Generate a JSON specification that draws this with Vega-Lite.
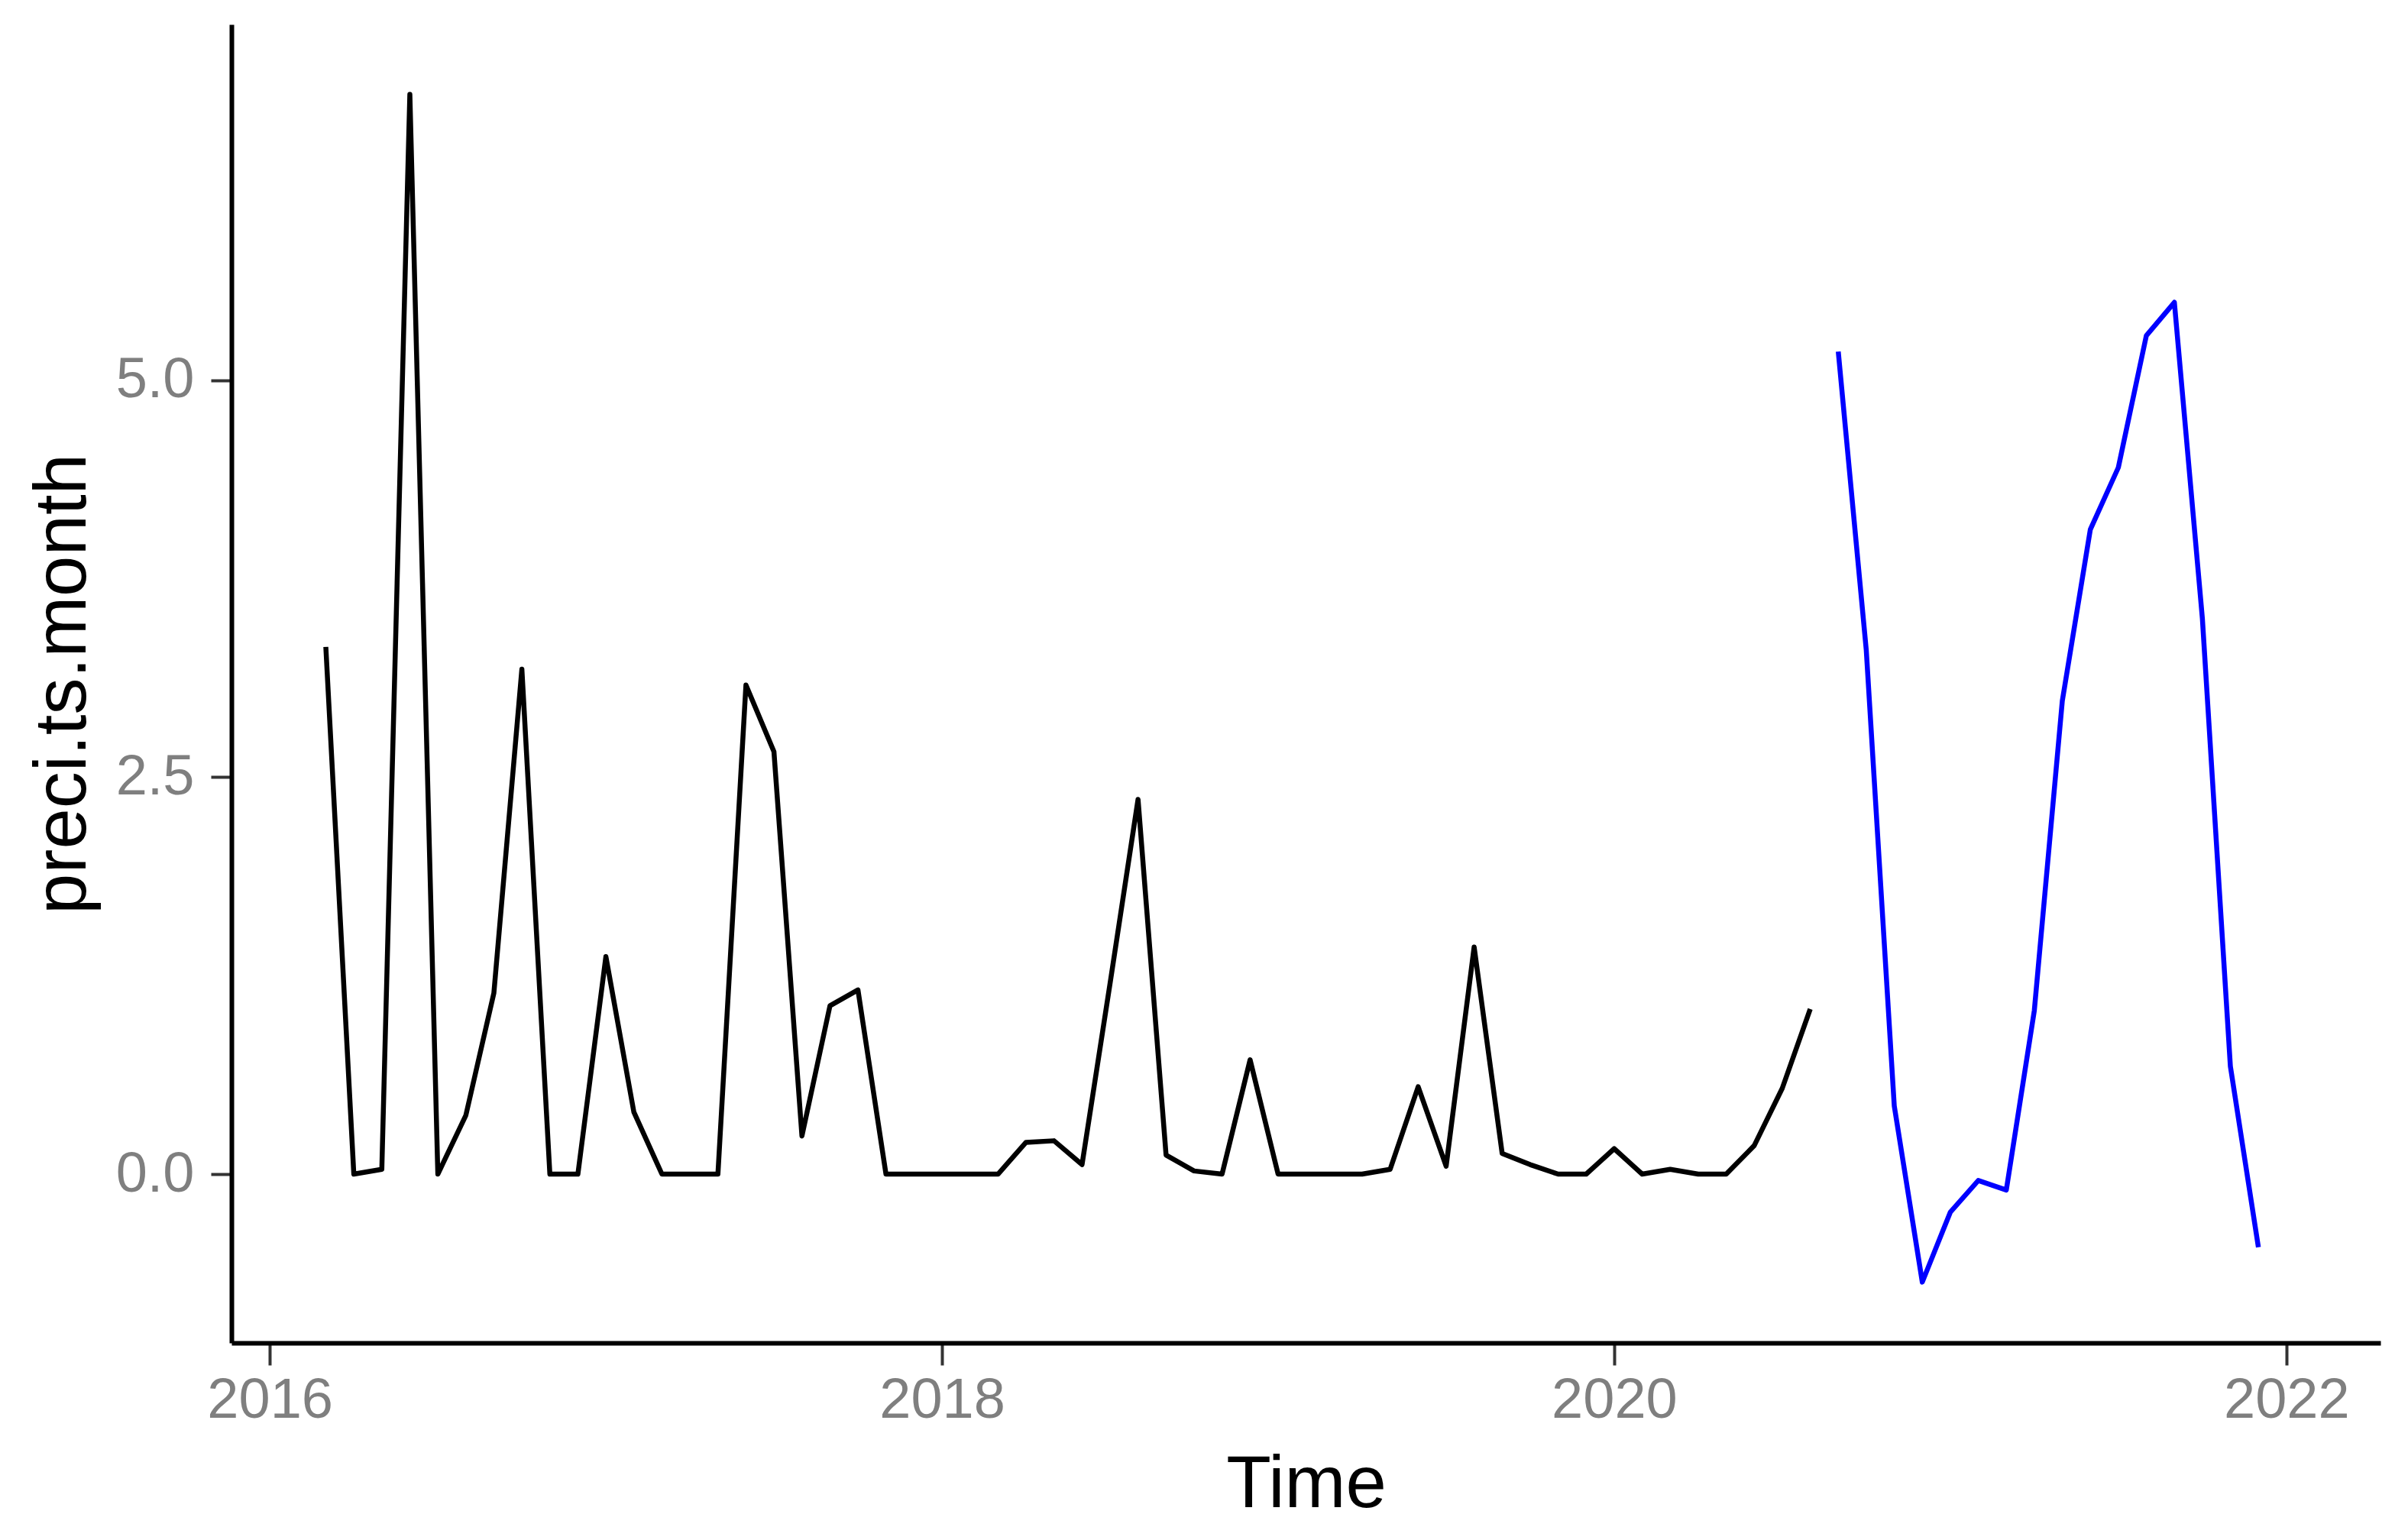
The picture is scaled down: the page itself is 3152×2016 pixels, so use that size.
{
  "$schema": "https://vega.github.io/schema/vega-lite/v6.json",
  "width": 2813,
  "height": 1726,
  "autosize": "none",
  "padding": {"left": 303, "top": 32, "right": 36, "bottom": 258},
  "background": "white",
  "config": {
    "view": {"stroke": null},
    "font": "Liberation Sans",
    "axis": {
      "grid": false,
      "domainColor": "black",
      "domainWidth": 6,
      "tickColor": "#333333",
      "tickWidth": 4,
      "labelFont": "Liberation Sans",
      "labelColor": "#7f7f7f",
      "labelFontSize": 74,
      "titleFont": "Liberation Sans",
      "titleFontSize": 96,
      "titleFontWeight": "normal",
      "titleColor": "black"
    }
  },
  "data": {
    "values": [
      {"t": 2016.1667, "v": 3.32, "s": "obs"},
      {"t": 2016.25, "v": 0.0, "s": "obs"},
      {"t": 2016.3333, "v": 0.03, "s": "obs"},
      {"t": 2016.4167, "v": 6.8, "s": "obs"},
      {"t": 2016.5, "v": 0.0, "s": "obs"},
      {"t": 2016.5833, "v": 0.37, "s": "obs"},
      {"t": 2016.6667, "v": 1.14, "s": "obs"},
      {"t": 2016.75, "v": 3.18, "s": "obs"},
      {"t": 2016.8333, "v": 0.0, "s": "obs"},
      {"t": 2016.9167, "v": 0.0, "s": "obs"},
      {"t": 2017.0, "v": 1.37, "s": "obs"},
      {"t": 2017.0833, "v": 0.39, "s": "obs"},
      {"t": 2017.1667, "v": 0.0, "s": "obs"},
      {"t": 2017.25, "v": 0.0, "s": "obs"},
      {"t": 2017.3333, "v": 0.0, "s": "obs"},
      {"t": 2017.4167, "v": 3.08, "s": "obs"},
      {"t": 2017.5, "v": 2.66, "s": "obs"},
      {"t": 2017.5833, "v": 0.24, "s": "obs"},
      {"t": 2017.6667, "v": 1.06, "s": "obs"},
      {"t": 2017.75, "v": 1.16, "s": "obs"},
      {"t": 2017.8333, "v": 0.0, "s": "obs"},
      {"t": 2017.9167, "v": 0.0, "s": "obs"},
      {"t": 2018.0, "v": 0.0, "s": "obs"},
      {"t": 2018.0833, "v": 0.0, "s": "obs"},
      {"t": 2018.1667, "v": 0.0, "s": "obs"},
      {"t": 2018.25, "v": 0.2, "s": "obs"},
      {"t": 2018.3333, "v": 0.21, "s": "obs"},
      {"t": 2018.4167, "v": 0.06, "s": "obs"},
      {"t": 2018.5, "v": 1.2, "s": "obs"},
      {"t": 2018.5833, "v": 2.36, "s": "obs"},
      {"t": 2018.6667, "v": 0.12, "s": "obs"},
      {"t": 2018.75, "v": 0.02, "s": "obs"},
      {"t": 2018.8333, "v": 0.0, "s": "obs"},
      {"t": 2018.9167, "v": 0.72, "s": "obs"},
      {"t": 2019.0, "v": 0.0, "s": "obs"},
      {"t": 2019.0833, "v": 0.0, "s": "obs"},
      {"t": 2019.1667, "v": 0.0, "s": "obs"},
      {"t": 2019.25, "v": 0.0, "s": "obs"},
      {"t": 2019.3333, "v": 0.03, "s": "obs"},
      {"t": 2019.4167, "v": 0.55, "s": "obs"},
      {"t": 2019.5, "v": 0.05, "s": "obs"},
      {"t": 2019.5833, "v": 1.43, "s": "obs"},
      {"t": 2019.6667, "v": 0.13, "s": "obs"},
      {"t": 2019.75, "v": 0.06, "s": "obs"},
      {"t": 2019.8333, "v": 0.0, "s": "obs"},
      {"t": 2019.9167, "v": 0.0, "s": "obs"},
      {"t": 2020.0, "v": 0.16, "s": "obs"},
      {"t": 2020.0833, "v": 0.0, "s": "obs"},
      {"t": 2020.1667, "v": 0.03, "s": "obs"},
      {"t": 2020.25, "v": 0.0, "s": "obs"},
      {"t": 2020.3333, "v": 0.0, "s": "obs"},
      {"t": 2020.4167, "v": 0.18, "s": "obs"},
      {"t": 2020.5, "v": 0.54, "s": "obs"},
      {"t": 2020.5833, "v": 1.04, "s": "obs"},
      {"t": 2020.6667, "v": 5.18, "s": "fc"},
      {"t": 2020.75, "v": 3.3, "s": "fc"},
      {"t": 2020.8333, "v": 0.43, "s": "fc"},
      {"t": 2020.9167, "v": -0.68, "s": "fc"},
      {"t": 2021.0, "v": -0.24, "s": "fc"},
      {"t": 2021.0833, "v": -0.04, "s": "fc"},
      {"t": 2021.1667, "v": -0.1, "s": "fc"},
      {"t": 2021.25, "v": 1.03, "s": "fc"},
      {"t": 2021.3333, "v": 2.98, "s": "fc"},
      {"t": 2021.4167, "v": 4.06, "s": "fc"},
      {"t": 2021.5, "v": 4.45, "s": "fc"},
      {"t": 2021.5833, "v": 5.28, "s": "fc"},
      {"t": 2021.6667, "v": 5.49, "s": "fc"},
      {"t": 2021.75, "v": 3.5, "s": "fc"},
      {"t": 2021.8333, "v": 0.68, "s": "fc"},
      {"t": 2021.9167, "v": -0.46, "s": "fc"}
    ]
  },
  "mark": {"type": "line", "strokeWidth": 6.5, "strokeJoin": "round", "clip": true},
  "encoding": {
    "x": {
      "field": "t",
      "type": "quantitative",
      "title": "Time",
      "scale": {"domain": [2015.886, 2022.28], "nice": false, "zero": false},
      "axis": {"values": [2016, 2018, 2020, 2022], "format": "d", "tickSize": 29, "labelPadding": 10, "titlePadding": 26, "labelFlush": false}
    },
    "y": {
      "field": "v",
      "type": "quantitative",
      "title": "preci.ts.month",
      "scale": {"domain": [-1.063, 7.24], "nice": false, "zero": false},
      "axis": {"values": [0, 2.5, 5], "format": ".1f", "tickSize": 27, "labelPadding": 22, "titlePadding": 20}
    },
    "color": {
      "field": "s",
      "type": "nominal",
      "scale": {"domain": ["obs", "fc"], "range": ["black", "blue"]},
      "legend": null
    }
  }
}
